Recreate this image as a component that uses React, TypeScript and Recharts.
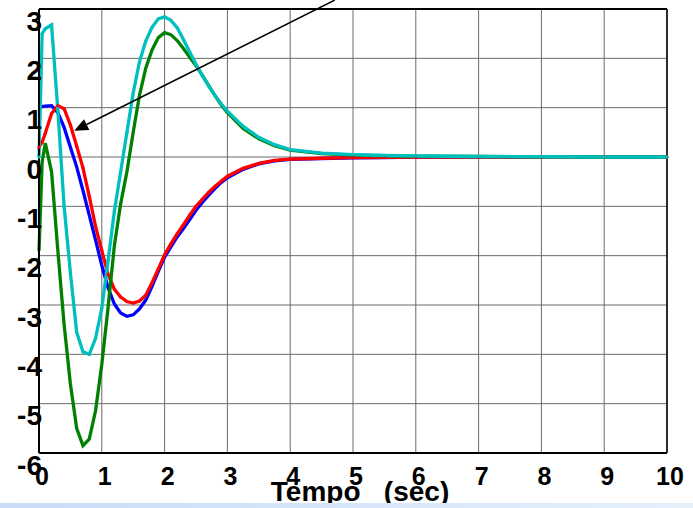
import {
  LineChart,
  Line,
  XAxis,
  YAxis,
  CartesianGrid,
  ReferenceLine
} from 'recharts';

const times = [
  0, 0.05, 0.1, 0.2, 0.3, 0.4, 0.5, 0.6, 0.7, 0.8, 0.9, 1.0, 1.1, 1.2, 1.3, 1.4, 1.5,
  1.6, 1.7, 1.8, 1.9, 2.0, 2.1, 2.2, 2.3, 2.4, 2.5, 2.6, 2.7, 2.8, 2.9, 3.0,
  3.25, 3.5, 3.75, 4, 4.5, 5, 5.5, 6, 7, 8, 9, 10
];

const blue = [
  1.0, 1.02, 1.03, 1.04, 0.9, 0.6, 0.2, -0.2, -0.68, -1.18, -1.68, -2.2, -2.65, -2.98, -3.16, -3.23, -3.2,
  -3.08, -2.9, -2.62, -2.32, -2.03, -1.82, -1.62, -1.45, -1.27, -1.08, -0.92, -0.78, -0.64, -0.52, -0.42,
  -0.25, -0.14, -0.08, -0.05, -0.03, -0.015, -0.01, 0, 0, 0, 0, 0
];

const red = [
  0.2, 0.3, 0.48, 0.88, 1.04, 0.98, 0.65, 0.22, -0.22, -0.8, -1.4, -1.9, -2.38, -2.68, -2.84, -2.93, -2.96,
  -2.92, -2.8, -2.55, -2.27, -1.98, -1.76, -1.56, -1.37, -1.18, -1.0, -0.86, -0.72, -0.6, -0.49, -0.39,
  -0.23, -0.13, -0.07, -0.045, -0.025, -0.012, -0.005, 0, 0, 0, 0, 0
];

const green = [
  -1.9, -0.1, 0.28, -0.3, -1.9, -3.4, -4.6, -5.5, -5.85, -5.72, -5.15, -4.2, -3.05, -1.8, -0.95, -0.3, 0.5,
  1.25, 1.8, 2.17, 2.42, 2.52, 2.48, 2.36, 2.2, 2.02, 1.85, 1.66, 1.45, 1.25, 1.06, 0.9,
  0.58, 0.37, 0.23, 0.14, 0.07, 0.04, 0.025, 0.015, 0.01, 0.005, 0, 0
];

const cyan = [
  0.0, 2.5, 2.6, 2.68, 0.95, -1.0, -2.35, -3.55, -3.95, -4.0, -3.68, -3.06, -2.1, -1.1, -0.3, 0.5, 1.3,
  1.93, 2.35, 2.63, 2.8, 2.84, 2.77, 2.62, 2.38, 2.13, 1.88, 1.65, 1.44, 1.25, 1.08, 0.93,
  0.62, 0.4, 0.25, 0.15, 0.08, 0.05, 0.03, 0.02, 0.01, 0.005, 0, 0
];

const xTicks = [0, 1, 2, 3, 4, 5, 6, 7, 8, 9, 10];
const yTicks = [-6, -5, -4, -3, -2, -1, 0, 1, 2, 3];

const data = times.map((t, i) => ({
  t,
  blue: blue[i],
  red: red[i],
  green: green[i],
  cyan: cyan[i]
}));

const boldFont = {
  fontFamily: '"Liberation Sans", Arial, sans-serif',
  fontWeight: 'bold' as const,
  fill: '#000'
};

// tick labels sit right on the axis, a bit below/right of the tick
const renderYTick = (p: any) => (
  <text key={p.index} x={42} y={p.y + 12} textAnchor='end' dominantBaseline='central' fontSize={28} {...boldFont}>
    {p.payload.value}
  </text>
);

const renderXTick = (p: any) => (
  <text key={p.index} x={p.x + 3} y={476} textAnchor='middle' dominantBaseline='central' fontSize={25} {...boldFont}>
    {p.payload.value}
  </text>
);

const Arrow = (props: any) => {
  const { x1, y1, x2, y2 } = props;
  const ang = Math.atan2(y2 - y1, x2 - x1);
  const len = 14;
  const half = 6;
  const bx = x2 - len * Math.cos(ang);
  const by = y2 - len * Math.sin(ang);
  const px = -Math.sin(ang) * half;
  const py = Math.cos(ang) * half;
  return (
    <g>
      <line x1={x1} y1={y1} x2={bx} y2={by} stroke='#000' strokeWidth={1.6} />
      <polygon
        points={`${x2},${y2} ${bx + px},${by + py} ${bx - px},${by - py}`}
        fill='#000'
      />
    </g>
  );
};

const App = () => (
  <div style={{ position: 'absolute', left: 0, top: 0, width: 693, height: 508, background: '#fff', overflow: 'hidden' }}>
    <LineChart
      width={693}
      height={508}
      data={data}
      margin={{ top: 9, right: 26, left: 29, bottom: 45 }}
    >
      <CartesianGrid stroke='#6a6a6a' strokeWidth={1} />
      <XAxis
        dataKey='t'
        type='number'
        domain={[0, 10]}
        ticks={xTicks}
        interval={0}
        height={10}
        tickLine={false}
        tickSize={0}
        tickMargin={0}
        tick={renderXTick}
        axisLine={{ stroke: '#000', strokeWidth: 2 }}
      />
      <YAxis
        type='number'
        domain={[-6, 3]}
        ticks={yTicks}
        interval={0}
        width={10}
        tickLine={false}
        tickSize={0}
        tickMargin={0}
        tick={renderYTick}
        axisLine={{ stroke: '#000', strokeWidth: 2 }}
      />
      <ReferenceLine y={3} stroke='#000' strokeWidth={2} />
      <ReferenceLine x={10} stroke='#000' strokeWidth={1.5} />
      <Line type='linear' dataKey='blue' stroke='#0000ff' strokeWidth={3.3} dot={false} isAnimationActive={false} />
      <Line
        type='linear'
        dataKey='red'
        stroke='#ff0000'
        strokeWidth={3.3}
        dot={{ r: 1.6, fill: '#ff0000', stroke: 'none' }}
        isAnimationActive={false}
      />
      <Line type='linear' dataKey='green' stroke='#008000' strokeWidth={3.3} dot={false} isAnimationActive={false} />
      <Line
        type='linear'
        dataKey='cyan'
        stroke='#00bfbf'
        strokeWidth={3.3}
        dot={{ r: 1.6, fill: '#00bfbf', stroke: 'none' }}
        isAnimationActive={false}
      />
      <ReferenceLine
        segment={[{ x: 4.71, y: 3.18 }, { x: 0.56, y: 0.53 }]}
        ifOverflow='visible'
        shape={<Arrow />}
      />
      <text x={360} y={501} textAnchor='middle' fontSize={28} style={{ whiteSpace: 'pre' }} {...boldFont}>
        {'Tempo   (sec)'}
      </text>
    </LineChart>
    <div
      style={{
        position: 'absolute',
        left: 0,
        top: 503,
        width: 693,
        height: 5,
        background: 'linear-gradient(to right, #c9dbf7, #e4f1fb)'
      }}
    />
  </div>
);

export default App;
